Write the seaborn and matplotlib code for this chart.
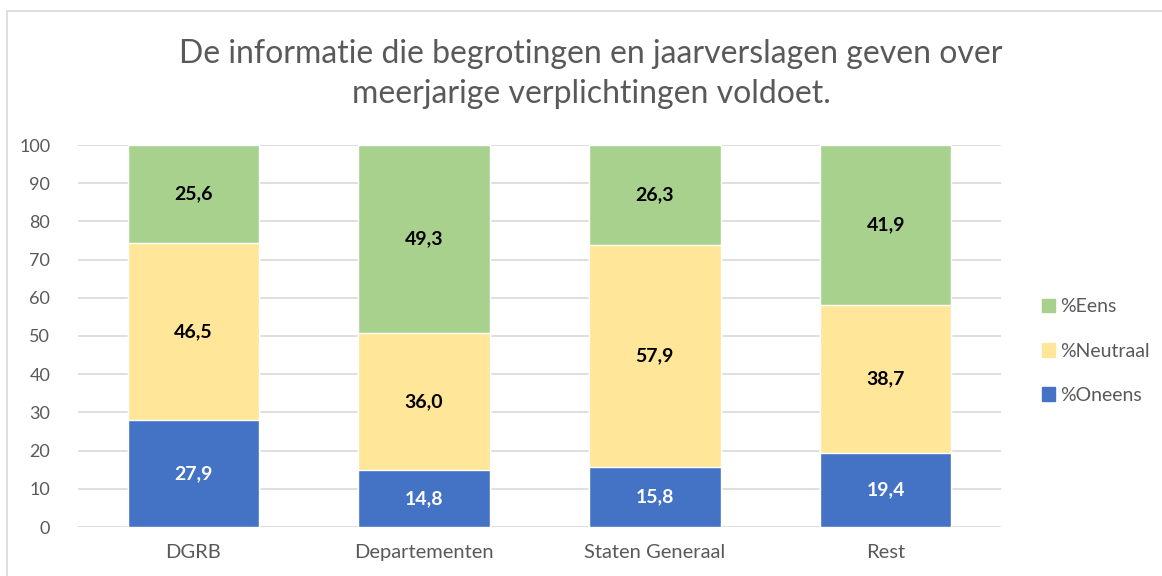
import pandas as pd
import matplotlib.pyplot as plt
import seaborn as sns
from matplotlib.patches import Rectangle, Patch

# --- data ---
groepen = ['DGRB', 'Departementen', 'Staten Generaal', 'Rest']
oneens = [27.9, 14.8, 15.8, 19.4]
neutraal = [46.5, 36.0, 57.9, 38.7]
eens = [25.6, 49.3, 26.3, 41.9]

blauw = '#4472C4'
geel = '#FFE699'
groen = '#A9D18E'
grijs = '#595959'

df = pd.DataFrame({'groep': groepen, 'oneens': oneens, 'neutraal': neutraal, 'eens': eens})
df['tot_neutraal'] = df['oneens'] + df['neutraal']
df['totaal'] = df['tot_neutraal'] + df['eens']

sns.set_style('white')
plt.rcParams['font.family'] = ['Lato', 'DejaVu Sans']

fig = plt.figure(figsize=(11.62, 5.76), dpi=100)
ax = fig.add_axes([78 / 1162, 1 - 527 / 576, (1001 - 78) / 1162, (527 - 145) / 576])

# gestapelde balken: van boven naar beneden over elkaar tekenen
sns.barplot(data=df, x='groep', y='totaal', color=groen, width=0.57, ax=ax, saturation=1, zorder=3)
sns.barplot(data=df, x='groep', y='tot_neutraal', color=geel, width=0.57, ax=ax, saturation=1, zorder=3)
sns.barplot(data=df, x='groep', y='oneens', color=blauw, width=0.57, ax=ax, saturation=1, zorder=3)

for i, row in df.iterrows():
    fmt = lambda v: f'{v:.1f}'.replace('.', ',')
    ax.text(i, row['oneens'] / 2, fmt(row['oneens']), ha='center', va='center',
            color='white', fontsize=14, fontweight='bold', zorder=4)
    ax.text(i, row['oneens'] + row['neutraal'] / 2, fmt(row['neutraal']), ha='center', va='center',
            color='black', fontsize=14, fontweight='bold', zorder=4)
    ax.text(i, row['tot_neutraal'] + row['eens'] / 2, fmt(row['eens']), ha='center', va='center',
            color='black', fontsize=14, fontweight='bold', zorder=4)

ax.set_xlim(-0.5, 3.5)
ax.set_ylim(0, 100)
ax.set_yticks(range(0, 101, 10))
ax.yaxis.grid(True, color='#D9D9D9', linewidth=1.2, zorder=0)
ax.set_axisbelow(True)
for s in ax.spines.values():
    s.set_visible(False)
ax.tick_params(axis='both', length=0, labelsize=13, labelcolor=grijs)
ax.tick_params(axis='x', pad=12, labelsize=14.5)
ax.tick_params(axis='y', pad=20)
ax.set_xlabel('')
ax.set_ylabel('')

fig.text(591 / 1162, 1 - 74 / 576,
         'De informatie die begrotingen en jaarverslagen geven over\nmeerjarige verplichtingen voldoet.',
         ha='center', va='center', fontsize=23, color=grijs, linespacing=1.45)

handles = [Patch(color=groen, label='%Eens'), Patch(color=geel, label='%Neutraal'),
           Patch(color=blauw, label='%Oneens')]
fig.legend(handles=handles, loc='center left', bbox_to_anchor=(1024 / 1162, 1 - 351 / 576),
           frameon=False, fontsize=14, labelcolor=grijs, handlelength=0.7, handleheight=0.7,
           handletextpad=0.25, labelspacing=1.4)

# rand van het grafiekgebied
fig.patches.append(Rectangle((7 / 1162, -0.1), 1.2, 1 - 11 / 576 + 0.1, transform=fig.transFigure,
                             fill=False, edgecolor='#D9D9D9', linewidth=1.2))

fig.savefig('out.png', dpi=100)
